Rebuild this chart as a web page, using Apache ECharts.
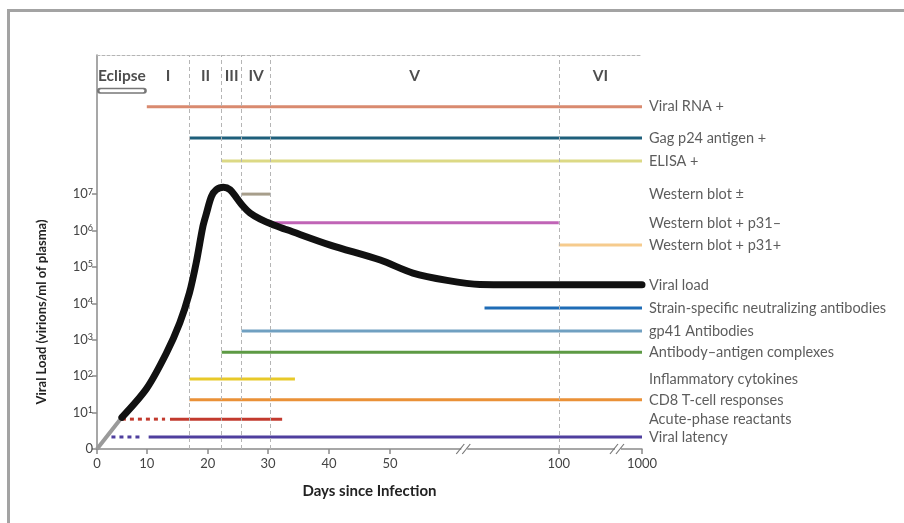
<!DOCTYPE html>
<html>
<head>
<meta charset="utf-8">
<script src="https://cdn.jsdelivr.net/npm/echarts@6/dist/echarts.min.js"></script>
<style>
  html, body { margin: 0; padding: 0; background: #fff; }
  #wrap { position: relative; width: 904px; height: 523px; overflow: hidden; }
  #frame {
    position: absolute; left: 7px; top: 9px; width: 920px; height: 540px;
    border-left: 3px solid #a3a3a3; border-top: 3px solid #a3a3a3;
  }
  #hiv-chart { position: absolute; left: 0; top: 0; width: 904px; height: 523px; }
</style>
</head>
<body>
<div id="wrap">
  <div id="frame"></div>
  <div id="hiv-chart"></div>
</div>
<script>
// x axis is broken: days -> axis units through these ticks
var tickDays = [0, 10, 20, 30, 40, 50, 100, 1000];
var tickAt = [0, 8.5, 18.9, 29.2, 39.6, 50, 78.8, 93];
var breakDays = [72, 740];

// y axis: log10 viral load, 0 at the bottom
var yTicks = [0, 1, 2, 3, 4, 5, 6, 7];

// stages
var stageNames = ['Eclipse', 'I', 'II', 'III', 'IV', 'V', 'VI'];
var stageBounds = [0, 10, 17, 22.3, 25.6, 30.4, 100, 1000];
var dividerDays = [17, 22.3, 25.6, 30.4, 100];

// viral load curve
var viralDays = [5, 10, 13.2, 15.4, 17, 18.1, 19.2, 19.8, 20.6, 21.4, 22.6, 23.7, 24.8, 25.9, 27, 28.7, 30.9, 33.1, 40.2, 48.4, 56.8, 66.9, 76.6, 100, 1000];
var viralLevel = [0.87, 1.67, 2.63, 3.46, 4.29, 5.11, 6.11, 6.48, 6.93, 7.12, 7.19, 7.12, 6.89, 6.66, 6.48, 6.31, 6.15, 6.02, 5.6, 5.19, 4.83, 4.63, 4.52, 4.51, 4.51];

// marker rows (label, row level, start day, end day)
var rowNames = ['Viral RNA +', 'Gag p24 antigen +', 'ELISA +', 'Western blot ±', 'Western blot + p31–', 'Western blot + p31+',
  'Viral load', 'Strain-specific neutralizing antibodies', 'gp41 Antibodies', 'Antibody–antigen complexes',
  'Inflammatory cytokines', 'CD8 T-cell responses', 'Acute-phase reactants', 'Viral latency'];
var rowLevel = [9.4, 8.54, 7.91, 7.0, 6.21, 5.6, 4.5, 3.87, 3.24, 2.66, 1.92, 1.35, 0.82, 0.33];
var rowStart = [10, 17, 22.3, 25.6, 30.4, 100, null, 78, 25.6, 22.3, 17, 17, 13.8, 10.3];
var rowEnd = [1000, 1000, 1000, 30.4, 100, 1000, null, 1000, 1000, 1000, 34.4, 1000, 32.3, 1000];
// dotted lead-ins (row index, start, end)
var dotRow = [12, 13];
var dotStart = [5, 2.9];
var dotEnd = [13, 9.3];

var rowColors = ['#d98a6f', '#1e5f7b', '#dcd985', '#a79e8b', '#c064b6', '#f6cb8d',
  '#000', '#1f6cb6', '#70a0c1', '#5d9a44', '#e8c929', '#ea9137', '#c23a2e', '#4f3f9e'];

function dayToPos(d) {
  for (var i = 1; i < tickDays.length; i++) {
    if (d <= tickDays[i]) {
      var t = (d - tickDays[i - 1]) / (tickDays[i] - tickDays[i - 1]);
      return tickAt[i - 1] + t * (tickAt[i] - tickAt[i - 1]);
    }
  }
  return tickAt[tickAt.length - 1];
}

var FONT = 'Lato, "Open Sans", sans-serif';
var chart = echarts.init(document.getElementById('hiv-chart'));
var series = [];

// divider lines
series.push({
  type: 'line', data: [], silent: true,
  markLine: {
    symbol: 'none', silent: true, label: { show: false },
    lineStyle: { type: [4, 3], color: '#b5b5b5', width: 1 },
    data: dividerDays.map(function (d) { return { xAxis: dayToPos(d) }; })
  }
});

// eclipse bar (hollow)
var eclipseLevel = 9.84;
series.push({
  type: 'line', symbol: 'none', silent: true, clip: false, z: 3,
  lineStyle: { color: '#777', width: 6, cap: 'round' },
  data: [[dayToPos(0.6), eclipseLevel], [dayToPos(9.4), eclipseLevel]]
});
series.push({
  type: 'line', symbol: 'none', silent: true, clip: false, z: 4,
  lineStyle: { color: '#fff', width: 3, cap: 'round' },
  data: [[dayToPos(0.8), eclipseLevel], [dayToPos(9.2), eclipseLevel]]
});

// stage labels
series.push({
  type: 'scatter', symbolSize: 0, silent: true,
  label: { show: true, position: 'inside', formatter: function (p) { return p.name; },
    fontFamily: FONT, fontWeight: 'bold', fontSize: 15.5, color: '#222' },
  data: stageNames.map(function (n, i) {
    return { name: n, value: [(dayToPos(stageBounds[i]) + dayToPos(stageBounds[i + 1])) / 2, 10.25] };
  })
});

// marker rows
rowNames.forEach(function (n, i) {
  if (rowStart[i] === null) return;
  series.push({
    type: 'line', symbol: 'none', silent: true, clip: false, z: 3,
    lineStyle: { color: rowColors[i], width: 3 },
    data: [[dayToPos(rowStart[i]), rowLevel[i]], [dayToPos(rowEnd[i]), rowLevel[i]]]
  });
});
dotRow.forEach(function (r, k) {
  series.push({
    type: 'line', symbol: 'none', silent: true, clip: false, z: 3,
    lineStyle: { color: rowColors[r], width: 3, type: [4, 4] },
    data: [[dayToPos(dotStart[k]), rowLevel[r]], [dayToPos(dotEnd[k]), rowLevel[r]]]
  });
});

// gray lead-in and viral load curve
series.push({
  type: 'line', symbol: 'none', silent: true, clip: false, z: 4,
  lineStyle: { color: '#9a9a9a', width: 4 },
  data: [[dayToPos(0), 0], [dayToPos(viralDays[0]), viralLevel[0]]]
});
series.push({
  type: 'line', symbol: 'none', silent: true, clip: false, z: 5, smooth: 0.3,
  lineStyle: { color: '#111', width: 7, cap: 'round', join: 'round' },
  data: viralDays.map(function (d, i) { return [dayToPos(d), viralLevel[i]]; })
});

// right-hand labels
series.push({
  type: 'scatter', symbolSize: 0, silent: true,
  label: { show: true, position: 'right', distance: 7, formatter: function (p) { return p.name; },
    fontFamily: FONT, fontSize: 14.5, color: '#333' },
  data: rowNames.map(function (n, i) { return { name: n, value: [dayToPos(1000), rowLevel[i]] }; })
});

// axis break marks
series.push({
  type: 'custom', silent: true, clip: false, z: 10,
  data: breakDays.map(function (d) { return [dayToPos(d), 0]; }),
  renderItem: function (params, api) {
    var p = api.coord([api.value(0), api.value(1)]);
    return {
      type: 'group',
      children: [
        { type: 'rect', shape: { x: p[0] - 3, y: p[1] - 3, width: 6, height: 6 }, style: { fill: '#fff' } },
        { type: 'line', shape: { x1: p[0] - 8, y1: p[1] + 5, x2: p[0] + 0, y2: p[1] - 5 }, style: { stroke: '#777', lineWidth: 1.2 } },
        { type: 'line', shape: { x1: p[0] - 2, y1: p[1] + 5, x2: p[0] + 6, y2: p[1] - 5 }, style: { stroke: '#777', lineWidth: 1.2 } }
      ]
    };
  }
});

var option = {
  animation: false,
  grid: { left: 97, right: 262, top: 55, bottom: 74 },
  xAxis: [{
    type: 'value', min: 0, max: tickAt[tickAt.length - 1],
    name: 'Days since Infection', nameLocation: 'middle', nameGap: 35,
    nameTextStyle: { fontFamily: FONT, fontWeight: 'bold', fontSize: 15, color: '#222' },
    splitLine: { show: false },
    axisLine: { lineStyle: { color: '#8a8a8a', width: 1.5 } },
    axisTick: { customValues: tickAt, length: 5, lineStyle: { color: '#8a8a8a', width: 1.5 } },
    axisLabel: {
      customValues: tickAt, margin: 8, fontFamily: FONT, fontSize: 13, color: '#444',
      formatter: function (v) {
        for (var i = 0; i < tickAt.length; i++) if (Math.abs(tickAt[i] - v) < 1e-6) return String(tickDays[i]);
        return '';
      }
    }
  }, {
    type: 'value', position: 'top', min: 0, max: tickAt[tickAt.length - 1],
    splitLine: { show: false }, axisTick: { show: false }, axisLabel: { show: false },
    axisLine: { show: true, lineStyle: { color: '#b5b5b5', width: 1, type: [3, 2] } }
  }],
  yAxis: {
    type: 'value', min: 0, max: 10.82,
    splitLine: { show: false },
    axisLine: { show: true, lineStyle: { color: '#8a8a8a', width: 1.5 } },
    axisTick: { show: true, customValues: yTicks, length: 5, lineStyle: { color: '#8a8a8a', width: 1.5 } },
    axisLabel: {
      customValues: yTicks, margin: 4, fontFamily: FONT, fontSize: 13, color: '#444', lineHeight: 14,
      formatter: function (v) { var e = Math.round(v); return e === 0 ? '0' : '10{s|' + e + '}'; },
      rich: { s: { fontFamily: FONT, fontSize: 9, color: '#444', lineHeight: 9, verticalAlign: 'top' } }
    }
  },
  graphic: [{
    type: 'text', x: 42, y: 312, rotation: Math.PI / 2,
    style: { text: 'Viral Load (virions/ml of plasma)', fontFamily: FONT, fontWeight: 'bold',
      fontSize: 13, fill: '#222', align: 'center', verticalAlign: 'middle' }
  }],
  series: series
};

chart.setOption(option);
window.onresize = chart.resize;
</script>
</body>
</html>
